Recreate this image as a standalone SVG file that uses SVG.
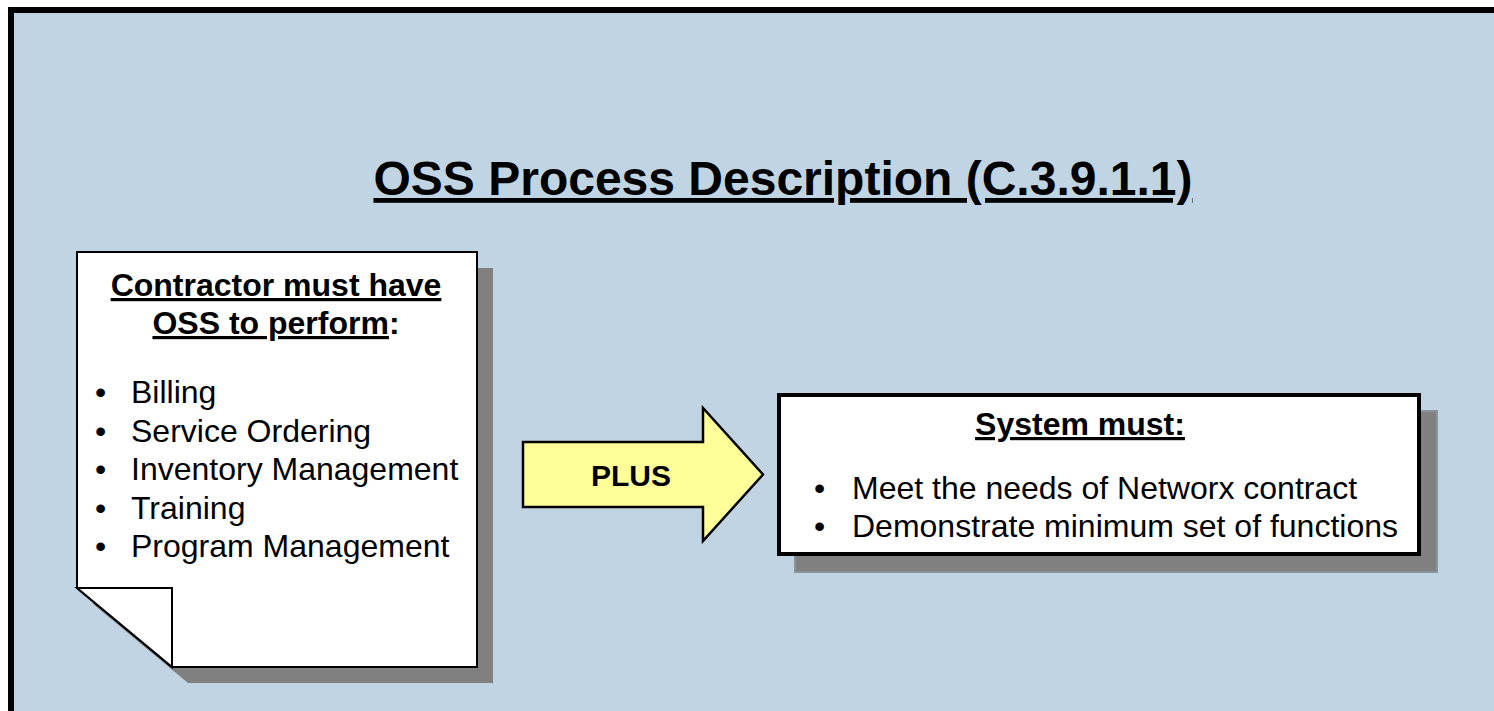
<svg xmlns="http://www.w3.org/2000/svg" width="1494" height="711" viewBox="0 0 1494 711">
<style>
text{font-family:"Liberation Sans",Arial,sans-serif;fill:#000}
.b{font-weight:bold}
.u{text-decoration:underline}
.shadow{fill:#808080}
.item{font-size:32px}
</style>
<rect x="0" y="0" width="1494" height="711" fill="#ffffff"/>
<g id="frame">
<rect x="11" y="10" width="1500" height="720" fill="#C1D4E3" stroke="#000" stroke-width="6"/>
</g>
<g id="title">
<text x="783" y="195" text-anchor="middle" class="b u" font-size="48">OSS Process Description (C.3.9.1.1)</text>
</g>
<g id="doc">
<path class="shadow" d="M93,268 H493 V683 H188 L93,604 Z"/>
<path d="M77,252 H477 V667 H172 L77,588 Z" fill="#fff" stroke="#000" stroke-width="2"/>
<path d="M77,588 H172 V667 Z" fill="#fff" stroke="#000" stroke-width="2" stroke-linejoin="miter"/>
<text x="276" y="296" text-anchor="middle" class="b u" font-size="32">Contractor must have</text>
<text x="276" y="334" text-anchor="middle" class="b" font-size="32"><tspan class="u">OSS to perform</tspan>:</text>
<g class="item">
<text x="95" y="403">•</text><text x="131" y="403">Billing</text>
<text x="95" y="441.5">•</text><text x="131" y="441.5">Service Ordering</text>
<text x="95" y="480">•</text><text x="131" y="480">Inventory Management</text>
<text x="95" y="518.5">•</text><text x="131" y="518.5">Training</text>
<text x="95" y="557">•</text><text x="131" y="557">Program Management</text>
</g>
</g>
<g id="connectors">
<g id="plus-arrow">
<polygon points="523,442 703,442 703,408 763,474.5 703,541 703,507 523,507" fill="#FFFF99" stroke="#000" stroke-width="2.5" stroke-linejoin="miter"/>
<text x="631" y="486" text-anchor="middle" class="b" font-size="30">PLUS</text>
</g>
</g>
<g id="system">
<rect x="795" y="411" width="642" height="161" class="shadow" stroke="#8A939B" stroke-width="2"/>
<rect x="779" y="395" width="640" height="159" fill="#fff" stroke="#000" stroke-width="4"/>
<text x="1080" y="435" text-anchor="middle" class="b u" font-size="32">System must:</text>
<g class="item">
<text x="814" y="499">•</text><text x="852" y="499">Meet the needs of Networx contract</text>
<text x="814" y="537">•</text><text x="852" y="537">Demonstrate minimum set of functions</text>
</g>
</g>
</svg>
